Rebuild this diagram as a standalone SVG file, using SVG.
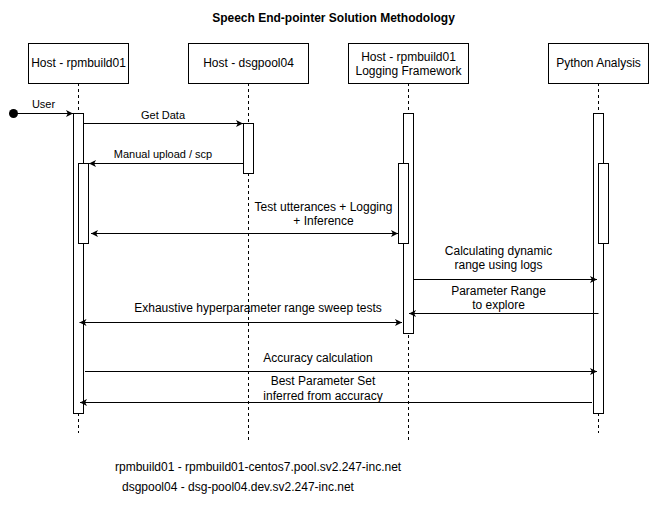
<svg xmlns="http://www.w3.org/2000/svg" width="652" height="507" viewBox="0 0 652 507">
<defs>
<marker id="arr" markerUnits="userSpaceOnUse" markerWidth="8" markerHeight="8" refX="7" refY="3.5" orient="auto-start-reverse">
<path d="M0,0 L7,3.5 L0,7 L1.8,3.5 z" fill="#000"/>
</marker>
</defs>
<style>
.box{fill:#fff;stroke:#000;stroke-width:1}
.life{stroke:#000;stroke-width:1;stroke-dasharray:3,3;fill:none}
.act{fill:#fff;stroke:#000;stroke-width:1}
.msg{stroke:#000;stroke-width:1;fill:none}
.lbl{font-family:"Liberation Sans",Arial,sans-serif;font-size:12px;fill:#000;text-anchor:middle}
.m{font-family:"Liberation Sans",Arial,sans-serif;font-size:12px;fill:#000;text-anchor:middle}
.s{font-family:"Liberation Sans",Arial,sans-serif;font-size:11px;fill:#000;text-anchor:middle}
.t{font-family:"Liberation Sans",Arial,sans-serif;font-size:12px;font-weight:bold;fill:#000;text-anchor:middle}
.f{font-family:"Liberation Sans",Arial,sans-serif;font-size:12px;fill:#000}
</style>
<rect width="652" height="507" fill="#fff"/>
<text class="t" x="333.5" y="22">Speech End-pointer Solution Methodology</text>

<g id="host-rpmbuild01">
<line class="life" x1="78.5" y1="83" x2="78.5" y2="433"/>
<rect class="box" x="28.5" y="43.5" width="100" height="40"/>
<text class="lbl" x="78.5" y="67">Host - rpmbuild01</text>
<rect class="act" x="73.5" y="113.5" width="10" height="300"/>
<rect class="act" x="78.5" y="163.5" width="10" height="80"/>
</g>

<g id="host-dsgpool04">
<line class="life" x1="248.5" y1="83" x2="248.5" y2="440"/>
<rect class="box" x="188.5" y="43.5" width="120" height="40"/>
<text class="lbl" x="248.5" y="67">Host - dsgpool04</text>
<rect class="act" x="243.5" y="123.5" width="10" height="50"/>
</g>

<g id="host-logging">
<line class="life" x1="408.5" y1="83" x2="408.5" y2="440"/>
<rect class="box" x="348.5" y="43.5" width="120" height="40"/>
<text class="lbl" x="408.5" y="60.5">Host - rpmbuild01</text>
<text class="lbl" x="408.5" y="74.5">Logging Framework</text>
<rect class="act" x="403.5" y="113.5" width="10" height="220"/>
<rect class="act" x="398.5" y="163.5" width="10" height="80"/>
</g>

<g id="python-analysis">
<line class="life" x1="598.5" y1="83" x2="598.5" y2="433"/>
<rect class="box" x="548.5" y="43.5" width="100" height="40"/>
<text class="lbl" x="598.5" y="67">Python Analysis</text>
<rect class="act" x="593.5" y="113.5" width="10" height="300"/>
<rect class="act" x="598.5" y="163.5" width="10" height="80"/>
</g>

<g id="connectors">
<circle cx="13.5" cy="113.5" r="4.5" fill="#000"/>
<line class="msg" x1="13.5" y1="113.5" x2="73" y2="113.5" marker-end="url(#arr)"/>
<text class="s" x="43.5" y="108">User</text>

<line class="msg" x1="83.5" y1="123.5" x2="243" y2="123.5" marker-end="url(#arr)"/>
<text class="s" x="163" y="118.5">Get Data</text>

<line class="msg" x1="243.5" y1="163.5" x2="89" y2="163.5" marker-end="url(#arr)"/>
<text class="s" x="163" y="158">Manual upload / scp</text>

<line class="msg" x1="91" y1="233.5" x2="398" y2="233.5" marker-start="url(#arr)" marker-end="url(#arr)"/>
<text class="m" x="323.5" y="210.5">Test utterances + Logging</text>
<text class="m" x="323.5" y="224.5">+ Inference</text>

<line class="msg" x1="413.5" y1="279.5" x2="597" y2="279.5" marker-end="url(#arr)"/>
<text class="m" x="498.5" y="255">Calculating dynamic</text>
<text class="m" x="498.5" y="269">range using logs</text>

<line class="msg" x1="598.5" y1="313.5" x2="409" y2="313.5" marker-end="url(#arr)"/>
<text class="m" x="498.5" y="294.5">Parameter Range</text>
<text class="m" x="498.5" y="309">to explore</text>

<line class="msg" x1="79.5" y1="322.5" x2="402" y2="322.5" marker-start="url(#arr)" marker-end="url(#arr)"/>
<text class="m" x="258" y="312">Exhaustive hyperparameter range sweep tests</text>

<line class="msg" x1="85" y1="371.5" x2="597" y2="371.5" marker-end="url(#arr)"/>
<text class="m" x="318" y="362">Accuracy calculation</text>

<line class="msg" x1="592" y1="402.5" x2="80" y2="402.5" marker-end="url(#arr)"/>
<text class="m" x="323" y="384.5">Best Parameter Set</text>
<text class="m" x="323" y="399.5">inferred from accuracy</text>
</g>

<text class="f" x="115" y="471">rpmbuild01 - rpmbuild01-centos7.pool.sv2.247-inc.net</text>
<text class="f" x="122" y="491">dsgpool04 - dsg-pool04.dev.sv2.247-inc.net</text>
</svg>
